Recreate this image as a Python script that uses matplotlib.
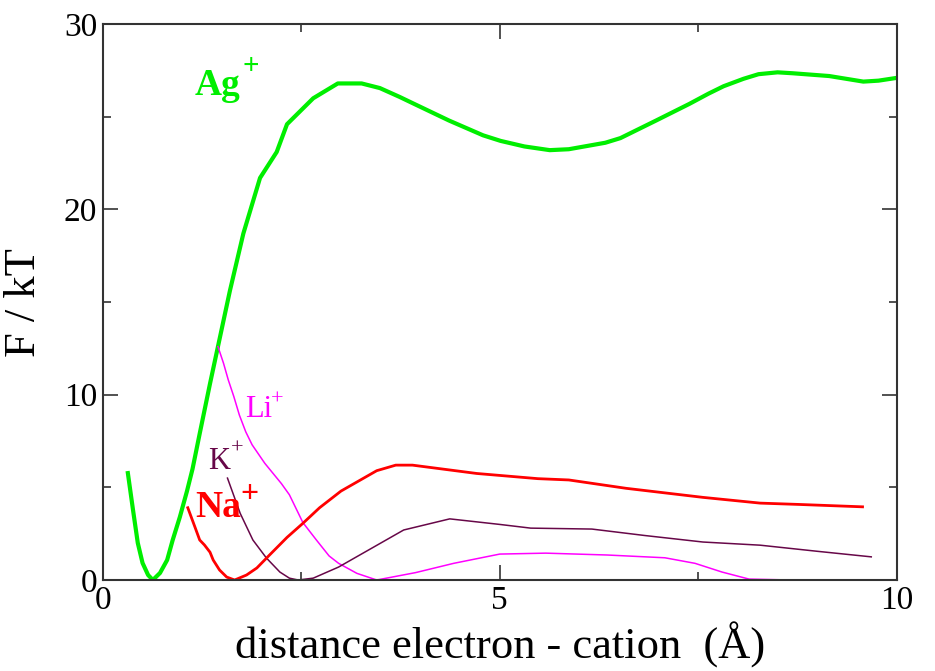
import matplotlib
matplotlib.use("Agg")
import matplotlib.pyplot as plt
from matplotlib.ticker import MultipleLocator

plt.rcParams["font.family"] = ["Liberation Serif", "DejaVu Serif"]

# free energy curves
ag_x = [0.315, 0.38, 0.44, 0.50, 0.57, 0.63, 0.72, 0.81, 0.88, 0.97, 1.06, 1.13, 1.22,
        1.35, 1.48, 1.60, 1.77, 1.98, 2.19, 2.32, 2.65, 2.96, 3.26, 3.49, 3.74, 3.92,
        4.36, 4.79, 5.01, 5.31, 5.63, 5.87, 6.33, 6.52, 6.97, 7.39, 7.63, 7.82, 8.07,
        8.26, 8.50, 8.69, 9.15, 9.58, 9.77, 10.0]
ag_y = [5.77, 3.78, 2.0, 0.92, 0.27, 0.0, 0.38, 1.08, 2.16, 3.4, 4.8, 6.0, 7.9,
        10.6, 13.2, 15.6, 18.7, 21.7, 23.1, 24.6, 26.0, 26.8, 26.8, 26.55, 26.07, 25.7,
        24.8, 24.0, 23.7, 23.4, 23.2, 23.25, 23.6, 23.85, 24.8, 25.7, 26.25, 26.65, 27.05,
        27.3, 27.4, 27.35, 27.2, 26.9, 26.95, 27.1]

li_x = [1.45, 1.52, 1.58, 1.65, 1.72, 1.80, 1.88, 2.04, 2.25, 2.35, 2.52, 2.69, 2.85,
        2.97, 3.20, 3.45, 3.94, 4.42, 5.0, 5.58, 6.35, 7.08, 7.46, 7.80, 8.14, 8.67]
li_y = [12.6, 11.7, 10.8, 9.9, 8.9, 8.0, 7.3, 6.3, 5.2, 4.6, 3.1, 2.16, 1.3,
        0.9, 0.36, 0.0, 0.4, 0.9, 1.4, 1.45, 1.35, 1.2, 0.9, 0.43, 0.05, 0.0]

k_x = [1.57, 1.73, 1.89, 2.06, 2.23, 2.35, 2.46, 2.65, 2.97, 3.79, 4.37, 5.0, 5.39,
       6.16, 6.83, 7.56, 8.28, 9.0, 9.68]
k_y = [5.5, 3.6, 2.16, 1.19, 0.43, 0.1, 0.0, 0.1, 0.7, 2.7, 3.3, 3.0, 2.8,
       2.75, 2.4, 2.05, 1.88, 1.55, 1.25]

na_x = [1.07, 1.16, 1.22, 1.28, 1.35, 1.39, 1.47, 1.56, 1.66, 1.81, 1.94, 2.10, 2.32,
        2.52, 2.73, 3.0, 3.45, 3.69, 3.90, 4.71, 5.48, 5.87, 6.59, 7.56, 8.28, 8.76, 9.57]
na_y = [3.9, 2.86, 2.16, 1.89, 1.5, 1.08, 0.54, 0.16, 0.0, 0.27, 0.65, 1.35, 2.3,
        3.06, 3.9, 4.8, 5.9, 6.2, 6.2, 5.75, 5.47, 5.4, 4.95, 4.46, 4.15, 4.08, 3.95]

green = "#00ee00"
red = "#ff0000"
magenta = "#ff00ff"
maroon = "#670748"

fig = plt.figure(figsize=(9.35, 6.71), dpi=100)
ax = fig.add_axes([0.110, 0.1356, 0.849, 0.8284])

ax.plot(ag_x, ag_y, color=green, lw=3.0, solid_joinstyle="round")
ax.plot(li_x, li_y, color=magenta, lw=1.1, solid_joinstyle="round")
ax.plot(k_x, k_y, color=maroon, lw=1.1, solid_joinstyle="round")
ax.plot(na_x, na_y, color=red, lw=2.0, solid_joinstyle="round")


def ion_label(x, y, name, sup_dx, sup_dy, color, size, sup_size, weight="normal"):
    # name plus a raised "+" placed by offset points
    ax.text(x, y, name, color=color, fontsize=size, fontweight=weight)
    ax.annotate("+", xy=(x, y), xytext=(sup_dx, sup_dy), textcoords="offset points",
                color=color, fontsize=sup_size, fontweight=weight)


ion_label(1.16, 26.2, "Ag", 34, 15, green, 27, 21, "bold")
ion_label(1.79, 8.8, "Li", 19, 9, magenta, 22, 16)
ion_label(1.32, 6.0, "K", 17, 11, maroon, 22, 16)
ion_label(1.16, 3.4, "Na", 33, 11, red, 27, 23, "bold")

ax.set_xlim(0, 10)
ax.set_ylim(0, 30)
ax.xaxis.set_major_locator(MultipleLocator(5))
ax.xaxis.set_minor_locator(MultipleLocator(2.5))
ax.yaxis.set_major_locator(MultipleLocator(10))
ax.yaxis.set_minor_locator(MultipleLocator(5))
ax.tick_params(which="both", direction="in", top=True, right=True, width=1.2,
               colors="#333333", labelcolor="black", labelsize=24, pad=4)
ax.tick_params(which="major", length=11)
ax.tick_params(which="minor", length=5.5)
for s in ax.spines.values():
    s.set_linewidth(1.5)
    s.set_color("#333333")

ax.set_xlabel("distance electron - cation  (Å)", fontsize=32, labelpad=4)
ax.set_ylabel("F / kT", fontsize=32, labelpad=14)

fig.savefig("out.png", dpi=100)
